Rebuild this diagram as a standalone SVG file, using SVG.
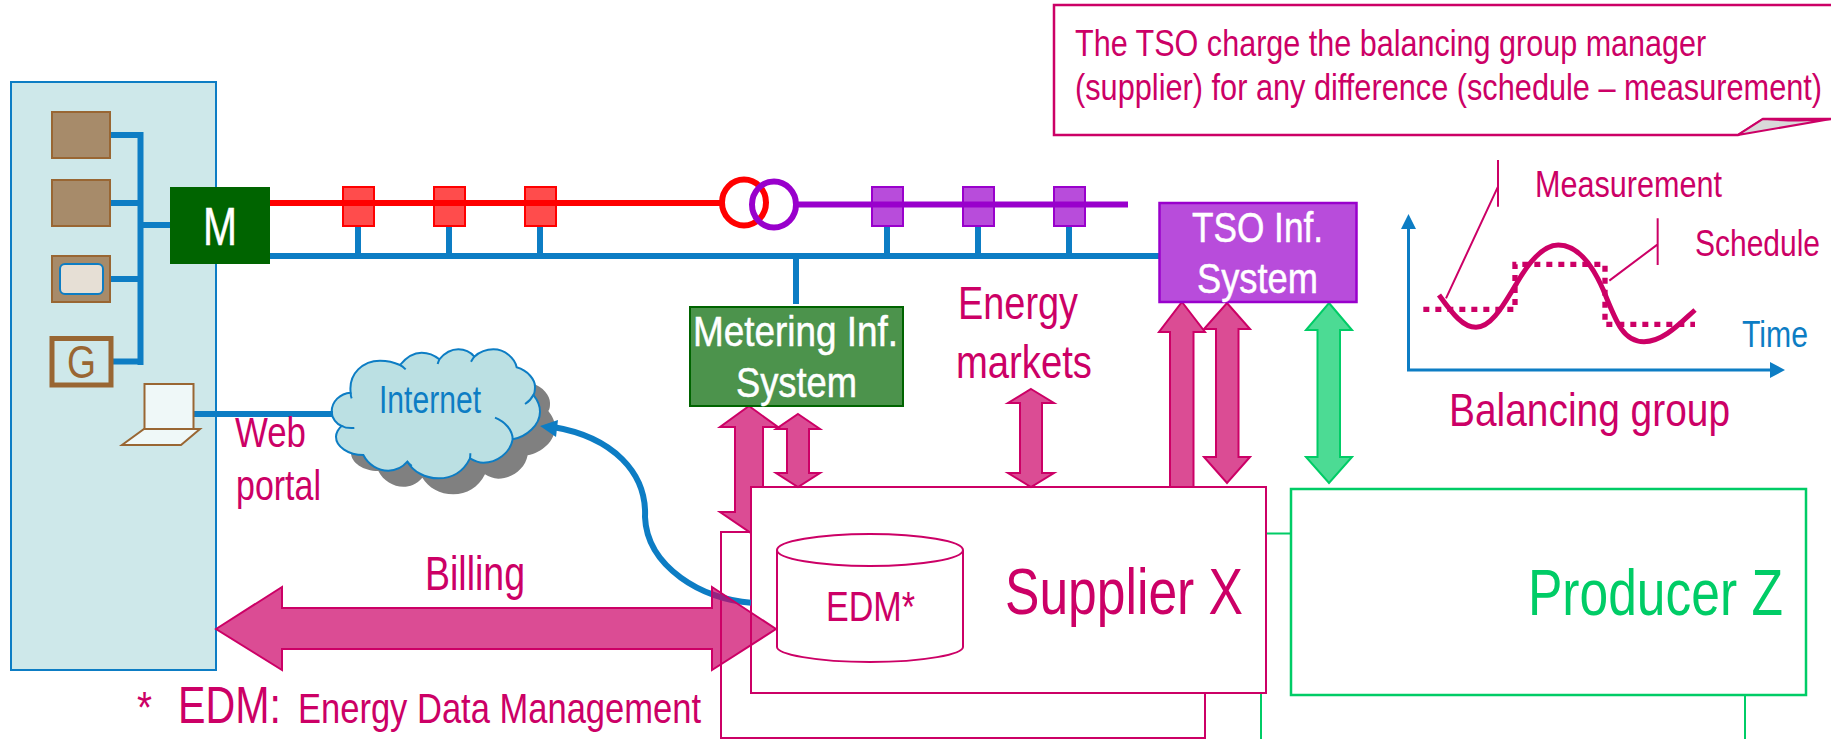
<svg xmlns="http://www.w3.org/2000/svg" width="1831" height="739" viewBox="0 0 1831 739">
<defs>
<style>
text{font-family:"Liberation Sans",Arial,sans-serif;fill:#cc0066}
.blue{fill:#0d7dc4}
.wt{fill:#fff;stroke:#fff;stroke-width:.5}
.box{fill:#fff;stroke:#cc0066;stroke-width:2}
.gbox{fill:#fff;stroke:#00cc66;stroke-width:2.5}
.dev{fill:#a78b6a;stroke:#996633;stroke-width:2}
.bl{fill:none;stroke:#0d7dc4;stroke-width:6}
.pa{fill:#cc0066;fill-opacity:.7;stroke:#cc0066;stroke-width:2;stroke-linejoin:miter}
.ga{fill:#00cc66;fill-opacity:.7;stroke:#00cc66;stroke-width:2}
.rs{fill:#ff4c4c;stroke:#f00;stroke-width:2}
.vs{fill:#b84cdb;stroke:#9900cc;stroke-width:2}
.pk{fill:none;stroke:#cc0066}
</style>
<path id="cloudshape" d="M35,215 C35,185 60,160 92,158 C85,100 130,62 180,62 C205,62 225,68 240,75 C260,50 285,38 305,38 C325,38 345,47 358,58 C375,38 395,28 415,28 C435,28 452,37 463,50 C480,35 500,28 520,28 C555,28 585,55 590,82 C625,92 645,120 645,140 C645,150 645,158 640,165 C652,180 660,195 660,215 C660,255 620,290 578,298 C570,340 530,368 490,368 C475,368 462,362 450,355 C430,395 395,415 355,415 C315,415 280,395 262,365 C245,385 225,392 205,392 C175,392 145,375 130,345 C85,345 48,320 48,290 C48,280 55,265 65,258 C50,252 35,235 35,215 Z"/>
</defs>
<rect width="1831" height="739" fill="#fff"/>

<g id="customer-site"><rect x="11" y="82" width="205" height="588" fill="#cee8ea" stroke="#0d7dc4" stroke-width="2"/></g>

<g id="back-supplier"><rect class="box" x="721" y="532" width="484" height="206"/></g>
<g id="back-producer"><rect x="1261" y="533.500" width="484" height="230" fill="#fff" stroke="#00cc66" stroke-width="2"/></g>
<g id="supplier-x"><rect class="box" x="751" y="487" width="515" height="206"/>
<text x="1005" y="614" font-size="65" textLength="238" lengthAdjust="spacingAndGlyphs">Supplier X</text></g>
<g id="producer-z"><rect class="gbox" x="1291" y="489" width="515" height="206"/>
<text transform="translate(1528 615) scale(.793 1)" font-size="65" style="fill:#00cc66">Producer Z</text></g>
<g id="edm"><path d="M777,550 V647 C777,654 815,662 870,662 C925,662 963,654 963,647 V550" fill="#fff" stroke="#cc0066" stroke-width="2"/>
<ellipse cx="870" cy="550" rx="93" ry="16" fill="#fff" stroke="#cc0066" stroke-width="2"/>
<text x="826" y="621" font-size="43" textLength="89" lengthAdjust="spacingAndGlyphs">EDM*</text></g>

<g id="internet"><g transform="translate(320 340) scale(.33333)">
<use href="#cloudshape" transform="translate(45 48)" fill="#808080"/>
<use href="#cloudshape" fill="#bbe0e3" stroke="#0d7dc4" stroke-width="6"/>
<path fill="none" stroke="#0d7dc4" stroke-width="6" d="M65,258 C75,264 90,265 103,264 M92,158 C92,165 93,170 95,175 M240,75 C247,78 252,83 257,88 M358,58 C356,63 354,68 353,72 M463,50 C459,55 456,60 453,65 M640,165 C635,175 627,185 615,192 M578,298 C578,270 555,245 525,233 M450,355 C451,350 451,345 451,340 M262,365 C268,372 272,375 275,378"/>
</g>
<text class="blue" x="379" y="413" font-size="38" textLength="102" lengthAdjust="spacingAndGlyphs">Internet</text></g>

<g id="connectors">
<path d="M110,135 H140.500 M110,203 H140.500 M110,279 H140.500 M110,361.500 H140.500 M170,225 H140.500 M140.500,132 V365" class="bl"/>
<path d="M192,414 H333" class="bl"/>
<path d="M269,256 H1160 M358,226 V256 M449,226 V256 M540,226 V256 M887,226 V256 M978,226 V256 M1069,226 V256 M796,256 V304" class="bl"/>
<path d="M269,203 H720" fill="none" stroke="#f00" stroke-width="6"/>
<path d="M796,204.500 H1128" fill="none" stroke="#9900cc" stroke-width="6"/>
<path d="M751,602.700 C703,600 647,567 645,517 C647,473 613,437 553,427" fill="none" stroke="#0d7dc4" stroke-width="6"/>
<path d="M540,426 L558,420 L556,437 Z" fill="#0d7dc4"/>
<path class="pa" d="M749,406 L778,427 H763 V487 H751 V533 L720,512 H735 V427 H720 Z"/>
<path class="pa" d="M798,414 L820,429 H809 V473 H820 L798,487 L776,473 H787 V429 H776 Z"/>
<path class="pa" d="M1031,389 L1054,403 H1042 V473 H1054 L1031,487 L1008,473 H1020 V403 H1008 Z"/>
<path class="pa" d="M1182,302 L1205,332 H1193.500 V487 H1170 V332 H1159 Z"/>
<path class="pa" d="M1227,303 L1250,329 H1238.500 V457 H1250 L1227,483 L1204,457 H1216 V329 H1204 Z"/>
<path class="ga" d="M1329,303 L1352,330 H1340 V457 H1352 L1329,483 L1306,457 H1317.500 V330 H1306 Z"/>
<path class="pa" d="M216,629 L282,587 V608 H712 V587 L776,629 L712,670 V649 H282 V670 Z"/>
</g>

<g id="device-1"><rect class="dev" x="52" y="112" width="58" height="46"/></g>
<g id="device-2"><rect class="dev" x="52" y="180" width="58" height="46"/></g>
<g id="device-3"><rect class="dev" x="52" y="256" width="58" height="46"/><rect x="60" y="264" width="43" height="30" rx="5" fill="#e6dfd5" stroke="#0d7dc4" stroke-width="2"/></g>
<g id="generator"><rect x="52" y="338.500" width="59" height="46.500" fill="none" stroke="#996633" stroke-width="5"/>
<text x="67" y="378" font-size="46" textLength="29" lengthAdjust="spacingAndGlyphs" style="fill:#996633">G</text></g>
<g id="laptop"><rect x="144.500" y="384" width="49" height="45" fill="#eff8f8" stroke="#996633" stroke-width="2"/>
<path d="M144,429 H200 L181,445 H122 Z" fill="#eff8f8" stroke="#996633" stroke-width="2"/></g>

<g id="meter"><rect x="170" y="187" width="100" height="77" fill="#006400"/>
<text class="wt" x="203" y="245" font-size="54" textLength="34" lengthAdjust="spacingAndGlyphs">M</text></g>

<g id="red-nodes"><rect class="rs" x="343" y="187" width="31" height="39"/><rect class="rs" x="434" y="187" width="31" height="39"/><rect class="rs" x="525" y="187" width="31" height="39"/></g>
<path d="M342,203 H374 M433,203 H465 M524,203 H556" fill="none" stroke="#f00" stroke-width="6"/>
<g id="purple-nodes"><rect class="vs" x="872" y="187" width="31" height="39"/><rect class="vs" x="963" y="187" width="31" height="39"/><rect class="vs" x="1054" y="187" width="31" height="39"/></g>
<path d="M872,204.500 H903 M963,204.500 H994 M1054,204.500 H1085" fill="none" stroke="#9900cc" stroke-width="6"/>
<g id="transformer"><ellipse cx="744" cy="202.500" rx="22" ry="23" fill="none" stroke="#f00" stroke-width="6"/>
<ellipse cx="774" cy="204.500" rx="22" ry="23" fill="none" stroke="#9900cc" stroke-width="6"/></g>

<g id="metering-system"><rect x="690" y="307" width="213" height="99" fill="#4c934c" stroke="#006400" stroke-width="2"/>
<text class="wt" x="693" y="346" font-size="42" textLength="205" lengthAdjust="spacingAndGlyphs">Metering Inf.</text>
<text class="wt" x="736" y="397" font-size="42" textLength="121" lengthAdjust="spacingAndGlyphs">System</text></g>
<g id="tso-system"><rect x="1159.500" y="203" width="197" height="99" fill="#b84cdb" stroke="#9900cc" stroke-width="2.500"/>
<text class="wt" x="1192" y="242" font-size="42" textLength="131" lengthAdjust="spacingAndGlyphs">TSO Inf.</text>
<text class="wt" x="1197" y="293" font-size="42" textLength="121" lengthAdjust="spacingAndGlyphs">System</text></g>

<g id="callout"><path d="M1841,5 H1054 V135 H1738 L1763,119 H1841" fill="#fff" stroke="#cc0066" stroke-width="2.500"/>
<path d="M1738,135 L1763,119 Q1800,122 1831,119 Z" fill="#d9d9d9" stroke="#cc0066" stroke-width="2"/>
<text transform="translate(1075 56) scale(.826 1)" font-size="37">The TSO charge the balancing group manager</text>
<text transform="translate(1075 100) scale(.83 1)" font-size="37">(supplier) for any difference (schedule – measurement)</text></g>

<g id="balancing-chart">
<path d="M1408.500,229 V370 H1771" fill="none" stroke="#0d7dc4" stroke-width="3"/>
<path d="M1401,229 H1416 L1408.500,214 Z M1770,362 V378 L1785,370 Z" fill="#0d7dc4"/>
<g transform="translate(1340 0) scale(.33333)">
<path class="pk" stroke-width="16" stroke-dasharray="18 18" d="M250,928 H525 V793 H795 V973 H1065"/>
<path class="pk" stroke-width="15" d="M297,885 C340,945 370,982 408,982 C455,982 490,915 530,850 C570,780 610,735 655,735 C710,735 755,790 790,870 C830,970 850,1025 912,1025 C970,1025 1020,970 1065,930"/>
<path class="pk" stroke-width="6" d="M474,480 V620 M474,560 L318,895 M953,655 V795 M953,733 L808,842"/>
</g>
<text x="1535" y="197" font-size="36" textLength="187" lengthAdjust="spacingAndGlyphs">Measurement</text>
<text transform="translate(1695 256) scale(.833 1)" font-size="36">Schedule</text>
<text class="blue" x="1742" y="347" font-size="36" textLength="66" lengthAdjust="spacingAndGlyphs">Time</text>
<text x="1449" y="426" font-size="46" textLength="281" lengthAdjust="spacingAndGlyphs">Balancing group</text>
</g>

<g id="labels">
<text x="958" y="319" font-size="46" textLength="120" lengthAdjust="spacingAndGlyphs">Energy</text>
<text x="956" y="378" font-size="46" textLength="136" lengthAdjust="spacingAndGlyphs">markets</text>
<text x="235" y="447" font-size="42" textLength="71" lengthAdjust="spacingAndGlyphs">Web</text>
<text x="236" y="500" font-size="42" textLength="85" lengthAdjust="spacingAndGlyphs">portal</text>
<text x="425" y="590" font-size="48" textLength="100" lengthAdjust="spacingAndGlyphs">Billing</text>
<text x="137" y="723" font-size="44" textLength="15" lengthAdjust="spacingAndGlyphs">*</text>
<text x="178" y="723" font-size="52" textLength="103" lengthAdjust="spacingAndGlyphs">EDM:</text>
<text x="298" y="723" font-size="42" textLength="403" lengthAdjust="spacingAndGlyphs">Energy Data Management</text>
</g>
</svg>
